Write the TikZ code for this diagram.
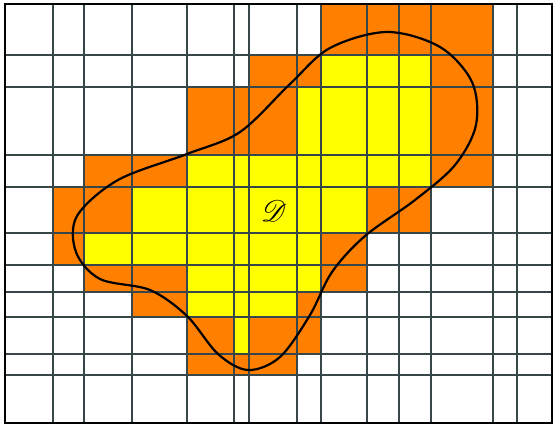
\documentclass[tikz,border=0pt]{standalone}
\usepackage{mathrsfs}
\usetikzlibrary{positioning}
\definecolor{cellorange}{RGB}{255,128,0}
\definecolor{cellyellow}{RGB}{255,255,0}
\definecolor{gridgray}{RGB}{55,70,72}

\begin{document}
\begin{tikzpicture}[
    x=1pt, y=-1pt,
    outercell/.style={fill=cellorange},
    innercell/.style={fill=cellyellow},
    gridline/.style={draw=gridgray, line width=1.2pt},
    frame/.style={draw=black, line width=2.4pt},
    boundary/.style={draw=black, line width=2.2pt},
    domlabel/.style={inner sep=0pt}
]
\useasboundingbox (0,0) rectangle (554,426);

% Cells touching the domain (outer approximation)
\foreach \ya/\yb/\xa/\xb in {4/55/321/493, 55/87/249/493, 87/155/187/493,
    155/187/84/493, 187/233/53/431, 233/265/53/367, 265/292/84/367,
    292/317/132/321, 317/354/187/321, 354/375/187/297}
  \fill[outercell] (\xa,\ya) rectangle (\xb,\yb);

% Cells inside the domain (inner approximation)
\foreach \ya/\yb/\xa/\xb in {55/87/321/431, 87/155/297/431, 155/187/187/431,
    187/233/132/367, 233/265/84/321, 265/292/187/321, 292/317/187/297,
    317/354/234/249}
  \fill[innercell] (\xa,\ya) rectangle (\xb,\yb);

% Grid
\foreach \x in {53,84,132,187,234,249,297,321,367,399,431,493,517}
  \draw[gridline] (\x,4) -- (\x,423);
\foreach \y in {55,87,155,187,233,265,292,317,354,375}
  \draw[gridline] (5,\y) -- (552,\y);

% Frame
\draw[frame] (5,4) rectangle (552,423);

% Domain boundary
\draw[boundary] plot[smooth cycle, tension=0.55] coordinates {
    (387,32) (440,47) (472,82) (476,125) (455,165) (415,200)
    (365,236) (332,272) (310,315) (280,357) (248,370) (218,354)
    (187,316) (150,290) (100,279) (76,252) (77,216) (118,180)
    (187,154) (240,132) (290,84) (330,48)};

\node[domlabel] (dom) at (274,211) {\scalebox{3}{$\mathscr{D}$}};
\end{tikzpicture}
\end{document}
